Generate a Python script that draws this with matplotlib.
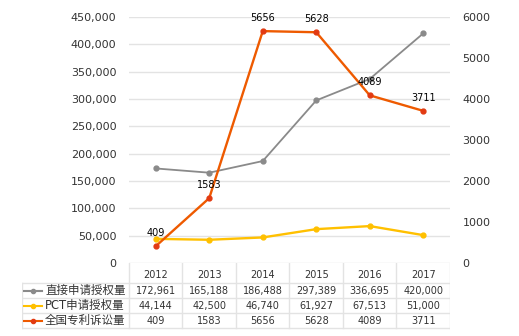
import matplotlib
matplotlib.use('Agg')
import matplotlib.pyplot as plt
from matplotlib.lines import Line2D
from matplotlib.ticker import FuncFormatter

plt.rcParams['font.family'] = ['DejaVu Sans', 'Noto Sans CJK SC']

# Data
years = ['2012', '2013', '2014', '2015', '2016', '2017']
direct_grants = [172961, 165188, 186488, 297389, 336695, 420000]
pct_grants = [44144, 42500, 46740, 61927, 67513, 51000]
lawsuits = [409, 1583, 5656, 5628, 4089, 3711]
series_names = ['直接申请授权量', 'PCT申请授权量', '全国专利诉讼量']

GRAY = '#8a8a8a'
YELLOW = '#FFC000'
ORANGE = '#EE5A00'
ORANGE_MK = '#E23A12'
GRID = '#e3e3e3'
TXT = '#333333'

W, H = 519, 336
fig = plt.figure(figsize=(W / 100, H / 100), dpi=100)

ax = fig.add_axes([129 / W, (H - 263) / H, 321 / W, 246 / H])
x = list(range(len(years)))

ax.plot(x, direct_grants, color=GRAY, lw=1.3, marker='o', ms=3.5, zorder=3)
ax.plot(x, pct_grants, color=YELLOW, lw=1.7, marker='o', ms=3.5, zorder=3)
ax.set_xlim(-0.5, 5.5)
ax.set_ylim(0, 450000)
ax.set_yticks(range(0, 450001, 50000))
ax.yaxis.set_major_formatter(FuncFormatter(lambda v, p: f'{int(v):,}'))
ax.grid(axis='y', color=GRID, lw=1)
ax.set_axisbelow(True)
ax.set_xticks([])
ax.tick_params(axis='y', length=0, pad=9, labelsize=8, labelcolor=TXT)
for s in ax.spines.values():
    s.set_visible(False)

ax2 = ax.twinx()
ax2.plot(x, lawsuits, color=ORANGE, lw=1.7, marker='o', ms=3.5,
         mfc=ORANGE_MK, mec=ORANGE_MK, zorder=4)
ax2.set_ylim(0, 6000)
ax2.set_yticks(range(0, 6001, 1000))
ax2.tick_params(axis='y', length=0, pad=9, labelsize=8, labelcolor=TXT)
for s in ax2.spines.values():
    s.set_visible(False)
for xi, v in zip(x, lawsuits):
    ax2.annotate(str(v), (xi, v), xytext=(0, 6), textcoords='offset points',
                 ha='center', va='bottom', fontsize=7, color='black', zorder=5)

# Data table under the chart
tax = fig.add_axes([22 / W, (H - 330) / H, 428 / W, 67 / H])
tax.set_xlim(-2.5, 5.5)
tax.set_ylim(330, 263)
tax.axis('off')

row_edges = [265, 283, 298, 313, 328]
for xb in [i - 0.5 for i in range(7)]:
    tax.plot([xb, xb], [263, row_edges[-1]], color=GRID, lw=1)
tax.plot([-2.5, -2.5], [row_edges[1], row_edges[-1]], color=GRID, lw=1)
for yb in row_edges[1:]:
    tax.plot([-2.5, 5.5], [yb, yb], color=GRID, lw=1)

for xi, yr in zip(x, years):
    tax.text(xi, 274.5, yr, ha='center', va='center', fontsize=7, color=TXT)

rows = [direct_grants, pct_grants, lawsuits]
styles = [(GRAY, GRAY), (YELLOW, YELLOW), (ORANGE, ORANGE_MK)]
for r, (vals, name, (lc, mc)) in enumerate(zip(rows, series_names, styles)):
    yc = (row_edges[r + 1] + row_edges[r + 2]) / 2
    tax.add_line(Line2D([-2.5 + 0.03, -2.5 + 0.38], [yc, yc], color=lc, lw=1.5))
    tax.plot([-2.5 + 0.205], [yc], marker='o', ms=3, color=mc)
    tax.text(-2.5 + 0.43, yc, name, ha='left', va='center', fontsize=8.3, color=TXT)
    for xi, v in zip(x, vals):
        label = f'{v:,}' if r < 2 else str(v)
        tax.text(xi, yc, label, ha='center', va='center', fontsize=7, color=TXT)

fig.savefig('out.png', dpi=100)
